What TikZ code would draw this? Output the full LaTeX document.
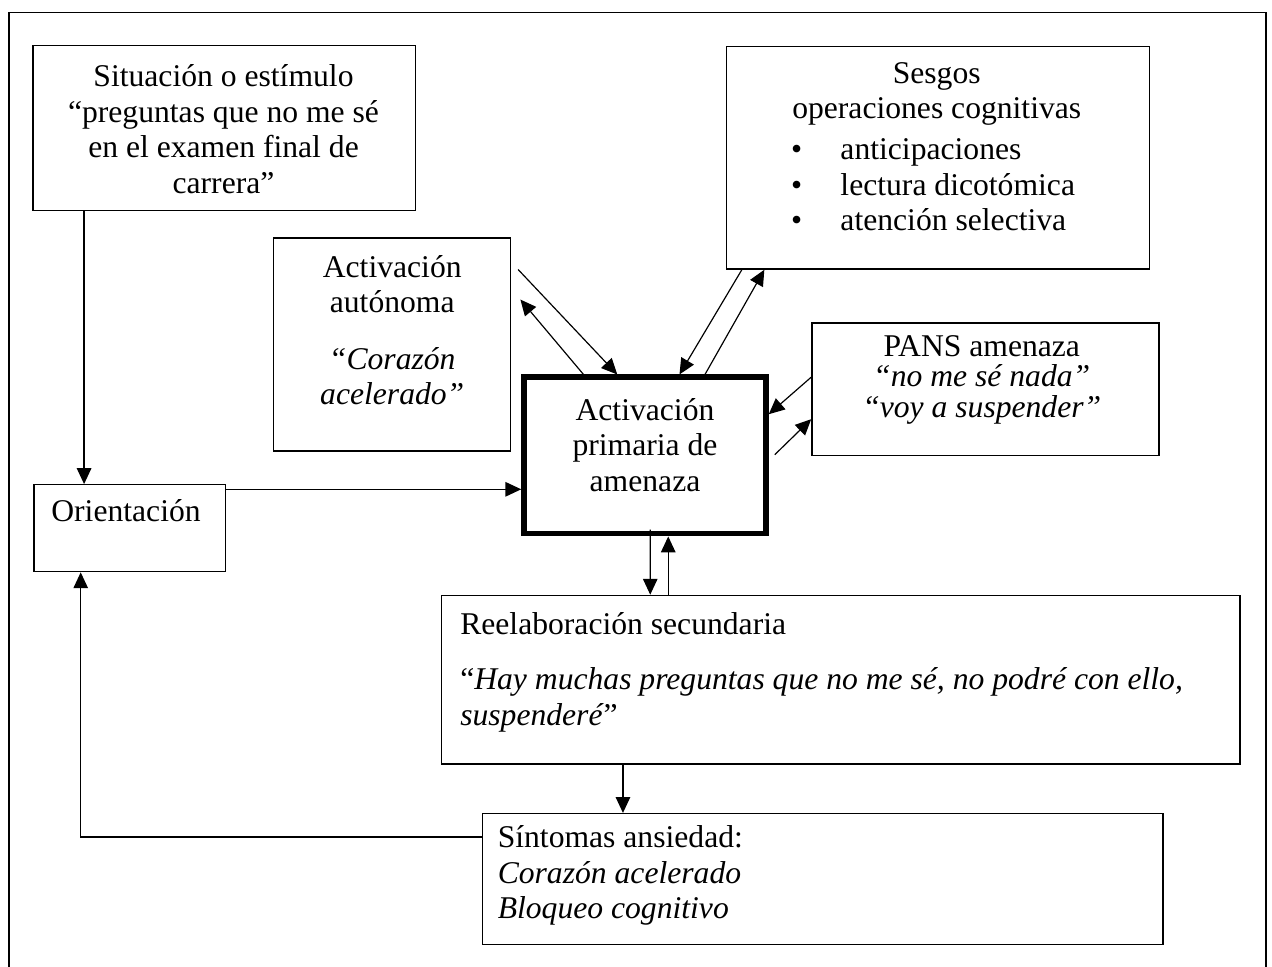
\documentclass[tikz,border=0pt]{standalone}
\usepackage{fontspec}
\setmainfont{Liberation Serif}
\usetikzlibrary{arrows.meta}

\newcommand{\bul}{\makebox[0.66cm][l]{\textbullet}}

\begin{document}
\begin{tikzpicture}[
    blk/.style={rectangle, draw, line width=0.5pt, inner sep=0pt},
    txt/.style={inner sep=0pt, align=center,
                font=\fontsize{12}{13.5}\selectfont},
    arr/.style={-{Triangle[length=6pt, width=5.5pt]}, line width=0.45pt},
  ]
    \useasboundingbox (0,0) rectangle (16.96,12.893);
    % Marco
    \draw[line width=0.5pt] (0.12,-0.1) -- (0.12,12.73) -- (16.88,12.73)
      -- (16.88,-0.1);

    % Situación
    \node[blk, minimum width=5.1cm, minimum height=2.2cm] (sit) at (2.99,11.19) {};
    \node[txt] (sit-t) at (2.98,11.17) {Situación o estímulo\\
      “preguntas que no me sé\\en el examen final de\\carrera”};

    % Sesgos
    \node[blk, minimum width=5.64cm, minimum height=2.97cm] (ses) at (12.51,10.79) {};
    \node[txt] (ses-t) at (12.49,11.64) {Sesgos\\operaciones cognitivas};
    \node[txt, align=left, anchor=west] (ses-l) at (10.54,10.43) {%
      \bul anticipaciones\\
      \bul lectura dicotómica\\
      \bul atención selectiva};

    % Activación autónoma
    \node[blk, minimum width=3.16cm, minimum height=2.84cm] (aut) at (5.23,8.30) {};
    \node[txt] (aut-t) at (5.23,8.49) {Activación\\autónoma\\[8pt]
      \textit{“Corazón}\\\textit{acelerado”}};

    % PANS
    \node[blk, minimum width=4.63cm, minimum height=1.77cm] (pans) at (13.14,7.70) {};
    \node[txt, font=\fontsize{12}{11.5}\selectfont] (pans-t) at (13.09,7.83)
      {PANS amenaza\\\textit{“no me sé nada”}\\\textit{“voy a suspender”}};

    % Activación primaria
    \node[rectangle, draw, line width=2pt, minimum width=3.23cm,
          minimum height=2.09cm] (pri) at (8.60,6.82) {};
    \node[txt] (pri-t) at (8.60,6.96) {Activación\\primaria de\\amenaza};

    % Orientación
    \node[blk, minimum width=2.55cm, minimum height=1.16cm] (ori) at (1.73,5.85) {};
    \node[txt] (ori-t) at (1.68,6.08) {Orientación};

    % Reelaboración
    \node[blk, minimum width=10.65cm, minimum height=2.25cm] (ree) at (11.21,3.83) {};
    \node[txt, align=left, anchor=west] (ree-t) at (6.13,3.93) {%
      Reelaboración secundaria\\[7.5pt]
      “\textit{Hay muchas preguntas que no me sé, no podré con ello,}\\
      \textit{suspenderé}”};

    % Síntomas
    \node[blk, minimum width=9.07cm, minimum height=1.75cm] (sin) at (10.97,1.17) {};
    \node[txt, align=left, anchor=west] (sin-t) at (6.63,1.22) {%
      Síntomas ansiedad:\\\textit{Corazón acelerado}\\\textit{Bloqueo cognitivo}};

    % Flechas
    \draw[arr] ([xshift=0.69cm]sit.south west) -- ([xshift=0.69cm]sit.south west |- ori.north);
    \draw[arr] ([yshift=-0.07cm]ori.north east) -- ([yshift=-0.07cm]ori.north east -| pri.west);
    \draw[arr] ([shift={(0.09,-0.43)}]aut.north east) -- ([xshift=1.28cm]pri.north west);
    \draw[arr] ([xshift=0.83cm]pri.north west) -- ([shift={(0.12,-0.83)}]aut.north east);
    \draw[arr] ([xshift=0.21cm]ses.south west) -- ([xshift=2.11cm]pri.north west);
    \draw[arr] ([xshift=2.45cm]pri.north west) -- ([xshift=0.51cm]ses.south west);
    \draw[arr] ([yshift=-0.73cm]pans.north west) -- ([yshift=-0.53cm]pri.north east);
    \draw[arr] ([shift={(0.08,-1.07)}]pri.north east) -- ([yshift=-1.29cm]pans.north west);
    \draw[arr] ([shift={(1.72,0.09)}]pri.south west) -- ([xshift=1.72cm]pri.south west |- ree.north);
    \draw[arr] ([xshift=1.96cm]pri.south west |- ree.north) -- ([xshift=1.96cm]pri.south west);
    \draw[arr] ([xshift=2.43cm]ree.south west) -- ([xshift=2.43cm]ree.south west |- sin.north);
    \draw[arr] ([yshift=-0.32cm]sin.north west) -| ([xshift=0.63cm]ori.south west);
  \end{tikzpicture}
\end{document}
